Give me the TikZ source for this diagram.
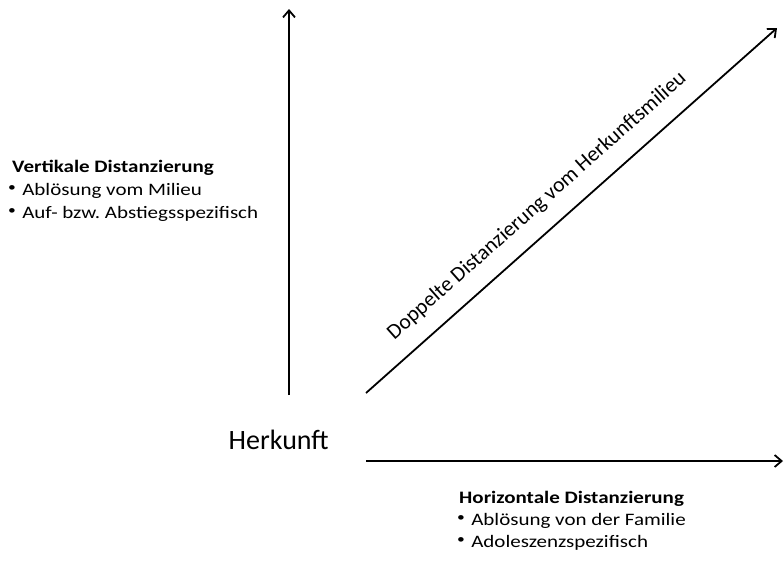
\documentclass[tikz,border=0pt]{standalone}
\usepackage{fontspec}
\setmainfont{Carlito}
\usetikzlibrary{arrows.meta}
\frenchspacing
\newcommand{\smallbullet}{\raisebox{0.22em}{\fontsize{13}{13}\selectfont •}\hspace{0.3em}}
\newcommand{\widetext}[1]{\scalebox{1.2}[1]{#1}}
\tikzset{
  axis/.style={line width=1.8pt, -{Straight Barb[length=7pt,width=12pt,line width=1.8pt]}},
  listline/.style={font=\fontsize{17.5}{21}\selectfont, anchor=base west, inner sep=0pt},
}
\begin{document}
\begin{tikzpicture}[x=1pt,y=-1pt]
\useasboundingbox (0,0) rectangle (784,563);
% origin and axis ends
\coordinate (vstart) at (289,395);
\coordinate (vend) at (289,9);
\coordinate (dstart) at (366,393);
\coordinate (dend) at (777,28);
\coordinate (hstart) at (366,461);
\coordinate (hend) at (783,461);
\draw[axis] (vstart) -- (vend);
\draw[axis] (dstart) -- (dend);
\draw[axis] (hstart) -- (hend);
% origin label
\node[font=\fontsize{28}{32}\selectfont, inner sep=0pt, anchor=base] (herkunft) at (278.7,449.3) {Herkunft};
% vertical distancing
\node[listline] (vert) at (12,172.3) {\widetext{\textbf{Vertikale Distanzierung}}};
\node[listline] (vert1) at (8,195.3) {\widetext{\smallbullet Ablösung vom Milieu}};
\node[listline] (vert2) at (8,218.3) {\widetext{\smallbullet Auf- bzw. Abstiegsspezifisch}};
% horizontal distancing
\node[listline] (hor) at (459,503.3) {\widetext{\textbf{Horizontale Distanzierung}}};
\node[listline] (hor1) at (457,525.3) {\widetext{\smallbullet Ablösung von der Familie}};
\node[listline] (hor2) at (457,547.3) {\widetext{\smallbullet Adoleszenzspezifisch}};
% diagonal label
\node[font=\fontsize{21.5}{24}\selectfont, inner sep=0pt, rotate=41.6] (diag) at (537,206) {Doppelte Distanzierung vom Herkunftsmilieu};
\end{tikzpicture}
\end{document}
